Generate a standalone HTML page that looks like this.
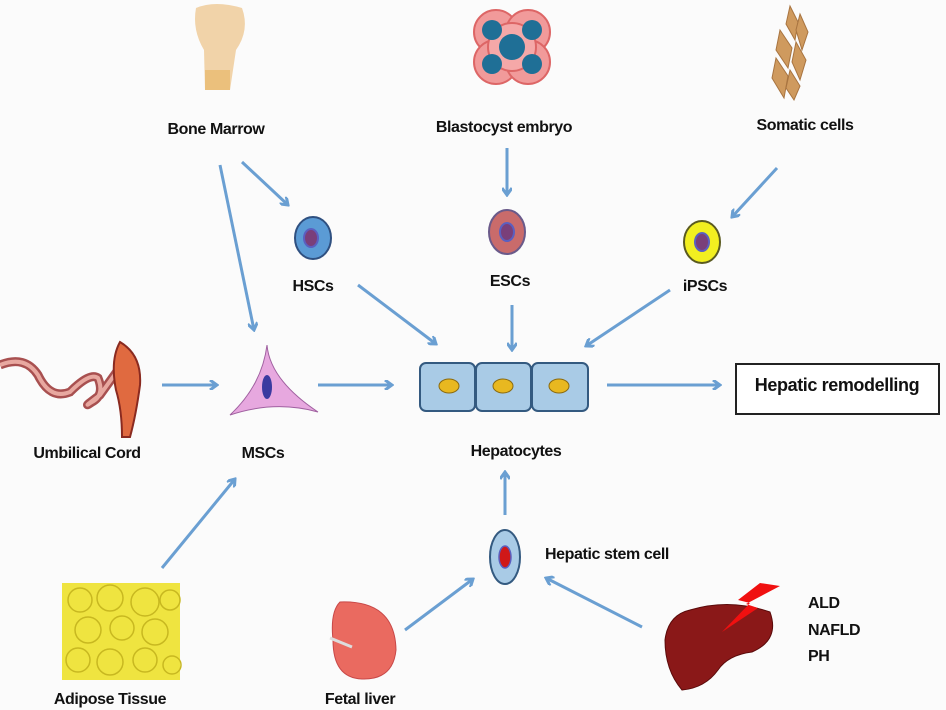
<!DOCTYPE html>
<html><head><meta charset="utf-8"><style>
html,body{margin:0;padding:0;background:#fbfbfb}
svg{display:block}
text{font-family:"Liberation Sans",sans-serif;font-size:16px;font-weight:bold;fill:#111;letter-spacing:-0.4px}
</style></head><body>
<svg width="946" height="710" viewBox="0 0 946 710" xmlns="http://www.w3.org/2000/svg">
<defs>
<marker id="a" markerWidth="10" markerHeight="10" refX="8" refY="5" orient="auto" markerUnits="userSpaceOnUse">
<path d="M1,0 L8,5 L1,10" fill="none" stroke="#6a9fd2" stroke-width="3"/>
</marker>
</defs>
<rect width="946" height="710" fill="#fbfbfb"/>
<!-- bone -->
<path d="M196,8 Q215,0 242,8 Q250,30 236,50 L230,90 L205,90 L204,50 Q192,30 196,8Z" fill="#f1d3a9"/>
<rect x="205" y="70" width="25" height="20" fill="#e8b86a" opacity="0.7"/>
<!-- blastocyst -->
<g stroke="#d66" stroke-width="2">
<circle cx="496" cy="32" r="22" fill="#f19a9a"/><circle cx="528" cy="32" r="22" fill="#f19a9a"/>
<circle cx="496" cy="62" r="22" fill="#f19a9a"/><circle cx="528" cy="62" r="22" fill="#f19a9a"/>
<circle cx="512" cy="47" r="24" fill="#f5a8a8"/>
</g>
<circle cx="492" cy="30" r="10" fill="#1f6f96"/><circle cx="532" cy="30" r="10" fill="#1f6f96"/>
<circle cx="492" cy="64" r="10" fill="#1f6f96"/><circle cx="532" cy="64" r="10" fill="#1f6f96"/>
<circle cx="512" cy="47" r="13" fill="#1f6f96"/>
<!-- somatic -->
<g fill="#cf9a5e" stroke="#a87440">
<path d="M790,6 L798,22 L795,40 L786,24Z"/><path d="M800,14 L808,32 L802,50 L796,30Z"/>
<path d="M780,30 L792,48 L788,68 L776,50Z"/><path d="M796,42 L806,60 L800,80 L792,62Z"/>
<path d="M776,58 L788,76 L784,98 L772,78Z"/><path d="M790,70 L800,86 L794,100 L786,88Z"/>
</g>
<text x="216" y="134" text-anchor="middle">Bone Marrow</text>
<text x="504" y="132" text-anchor="middle">Blastocyst embryo</text>
<text x="805" y="130" text-anchor="middle">Somatic cells</text>
<g stroke="#6a9fd2" stroke-width="3" fill="none" marker-end="url(#a)">
<line x1="220" y1="165" x2="254" y2="330"/>
<line x1="242" y1="162" x2="288" y2="205"/>
<line x1="507" y1="148" x2="507" y2="195"/>
<line x1="777" y1="168" x2="732" y2="217"/>
<line x1="358" y1="285" x2="436" y2="344"/>
<line x1="512" y1="305" x2="512" y2="350"/>
<line x1="670" y1="290" x2="586" y2="346"/>
<line x1="607" y1="385" x2="720" y2="385"/>
<line x1="162" y1="385" x2="217" y2="385"/>
<line x1="318" y1="385" x2="392" y2="385"/>
<line x1="162" y1="568" x2="235" y2="479"/>
<line x1="505" y1="515" x2="505" y2="472"/>
<line x1="405" y1="630" x2="473" y2="579"/>
<line x1="642" y1="627" x2="546" y2="578"/>
</g>
<!-- stem cells -->
<ellipse cx="313" cy="238" rx="18" ry="21" fill="#5b9bd5" stroke="#2f5080" stroke-width="2"/>
<ellipse cx="311" cy="238" rx="7" ry="9" fill="#7a3f7a" stroke="#5b5fc0" stroke-width="2"/>
<ellipse cx="507" cy="232" rx="18" ry="22" fill="#c96b6b" stroke="#6a5a8a" stroke-width="2"/>
<ellipse cx="507" cy="232" rx="7" ry="9" fill="#7a3f7a" stroke="#5b5fc0" stroke-width="2"/>
<ellipse cx="702" cy="242" rx="18" ry="21" fill="#f2ef20" stroke="#5a5a20" stroke-width="2"/>
<ellipse cx="702" cy="242" rx="7" ry="9" fill="#7a3f7a" stroke="#5b5fc0" stroke-width="2"/>
<text x="313" y="291" text-anchor="middle">HSCs</text>
<text x="510" y="286" text-anchor="middle">ESCs</text>
<text x="705" y="291" text-anchor="middle">iPSCs</text>
<!-- hepatocytes -->
<g fill="#a9cbe6" stroke="#345a80" stroke-width="2">
<rect x="420" y="363" width="55" height="48" rx="6"/><rect x="476" y="363" width="55" height="48" rx="6"/><rect x="532" y="363" width="56" height="48" rx="6"/>
</g>
<g fill="#e8b820" stroke="#8a6a10"><ellipse cx="449" cy="386" rx="10" ry="7"/><ellipse cx="503" cy="386" rx="10" ry="7"/><ellipse cx="559" cy="386" rx="10" ry="7"/></g>
<text x="516" y="456" text-anchor="middle">Hepatocytes</text>
<rect x="736" y="364" width="203" height="50" fill="#fff" stroke="#222" stroke-width="2"/>
<text x="837" y="391" text-anchor="middle" style="font-size:18px">Hepatic remodelling</text>
<!-- umbilical -->
<path d="M0,365 Q25,355 38,375 Q50,400 70,392 Q90,372 98,378 Q105,395 92,402 Q80,410 100,395 L118,370" fill="none" stroke="#a85050" stroke-width="9"/>
<path d="M0,365 Q25,355 38,375 Q50,400 70,392 Q90,372 98,378 Q105,395 92,402 Q80,410 100,395 L118,370" fill="none" stroke="#e8a8a0" stroke-width="4"/>
<path d="M120,342 Q142,355 140,385 Q136,415 130,437 L122,437 Q122,410 116,390 Q110,360 120,342Z" fill="#e06a40" stroke="#8a2a20" stroke-width="2"/>
<text x="87" y="458" text-anchor="middle">Umbilical Cord</text>
<!-- MSC -->
<path d="M267,345 Q270,380 318,412 Q275,400 230,415 Q262,385 267,345Z" fill="#e7a8df" stroke="#a060a0"/>
<ellipse cx="267" cy="387" rx="5" ry="12" fill="#3a3aa0"/>
<text x="263" y="458" text-anchor="middle">MSCs</text>
<!-- adipose -->
<rect x="62" y="583" width="118" height="97" fill="#efe440"/>
<g fill="none" stroke="#c8b820" stroke-width="1.5">
<circle cx="80" cy="600" r="12"/><circle cx="110" cy="598" r="13"/><circle cx="145" cy="602" r="14"/><circle cx="170" cy="600" r="10"/>
<circle cx="88" cy="630" r="13"/><circle cx="122" cy="628" r="12"/><circle cx="155" cy="632" r="13"/>
<circle cx="78" cy="660" r="12"/><circle cx="110" cy="662" r="13"/><circle cx="145" cy="660" r="12"/><circle cx="172" cy="665" r="9"/>
</g>
<text x="110" y="704" text-anchor="middle">Adipose Tissue</text>
<!-- hepatic stem cell -->
<ellipse cx="505" cy="557" rx="15" ry="27" fill="#a9cbe6" stroke="#345a80" stroke-width="2"/>
<ellipse cx="505" cy="557" rx="6" ry="11" fill="#d01818" stroke="#5b5fc0" stroke-width="1.5"/>
<text x="545" y="559">Hepatic stem cell</text>
<!-- fetal liver -->
<path d="M340,602 Q395,600 396,650 Q393,680 362,679 Q333,678 333,640 Q330,612 340,602Z" fill="#ea6a60" stroke="#c84848"/>
<line x1="330" y1="638" x2="352" y2="647" stroke="#ddd" stroke-width="3"/>
<text x="360" y="704" text-anchor="middle">Fetal liver</text>
<!-- liver -->
<path d="M690,610 Q730,598 770,612 Q780,640 752,652 Q728,655 718,670 Q705,688 682,690 Q665,670 665,640 Q668,615 690,610Z" fill="#8a1818" stroke="#5a0a0a"/>
<path d="M760,583 L738,600 L750,603 L722,632 L758,608 L746,604 L780,586Z" fill="#f01010"/>
<text x="808" y="608">ALD</text>
<text x="808" y="635">NAFLD</text>
<text x="808" y="661">PH</text>
</svg>
</body></html>
